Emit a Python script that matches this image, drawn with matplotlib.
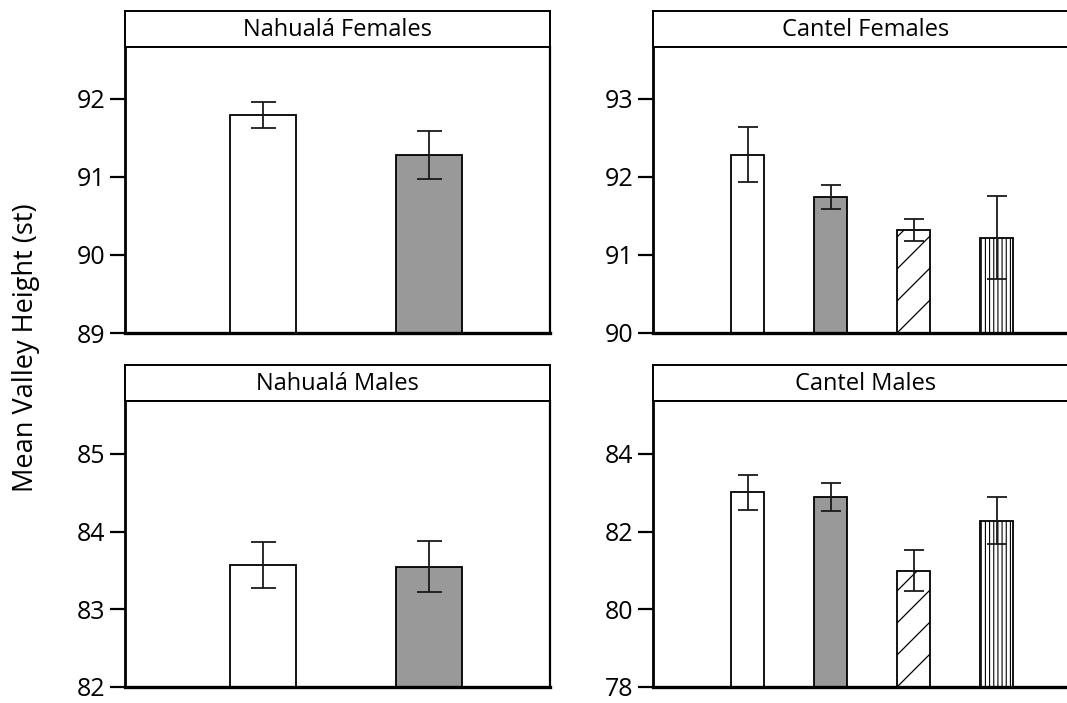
import matplotlib
matplotlib.use("Agg")
import matplotlib.pyplot as plt
import numpy as np

plt.rcParams["font.family"] = ["Open Sans", "DejaVu Sans"]
plt.rcParams["hatch.linewidth"] = 0.8

# Mean valley height (semitones) with error bar half-widths
nahuala_f_means = [91.79, 91.28]
nahuala_f_err = [0.17, 0.31]
cantel_f_means = [92.28, 91.74, 91.32, 91.22]
cantel_f_err = [0.35, 0.15, 0.14, 0.53]
nahuala_m_means = [83.57, 83.55]
nahuala_m_err = [0.30, 0.33]
cantel_m_means = [83.01, 82.89, 80.99, 82.28]
cantel_m_err = [0.45, 0.37, 0.53, 0.61]

nahuala_f_ticks = [89, 90, 91, 92]
cantel_f_ticks = [90, 91, 92, 93]
nahuala_m_ticks = [82, 83, 84, 85]
cantel_m_ticks = [78, 80, 82, 84]

GRAY = "#999999"
# fill / hatch style per group: plain, gray, diagonal, vertical
styles = [
    dict(color="white", hatch=None),
    dict(color=GRAY, hatch=None),
    dict(color="white", hatch="diag"),
    dict(color="white", hatch="||||"),
]

W, H = 1067, 703
fig = plt.figure(figsize=(W / 100, H / 100), dpi=100)


def px_box(x0, y0, x1, y1):
    return [x0 / W, 1 - y1 / H, (x1 - x0) / W, (y1 - y0) / H]


def draw_diagonals(ax, bar, spacing_px=32):
    """Sparse 45-degree lines clipped to a bar."""
    x0, y0 = bar.get_x(), bar.get_y()
    bw, bh = bar.get_width(), bar.get_height()
    p0 = ax.transData.transform((x0, y0))
    p1 = ax.transData.transform((x0 + bw, y0 + bh))
    wpx = p1[0] - p0[0]
    inv = ax.transData.inverted()
    start = p0[1]
    while start < p1[1]:
        a = inv.transform((p0[0], start))
        b = inv.transform((p0[0] + wpx, start + wpx))
        ln, = ax.plot([a[0], b[0]], [a[1], b[1]], color="black", lw=0.9,
                      solid_capstyle="butt", zorder=2.5)
        ln.set_clip_path(bar)
        start += spacing_px


def draw_panel(box, title, means, errs, ticks, ylim, positions, xlim, capsize):
    x0, y0, x1, y1 = box
    head_h = 36
    hax = fig.add_axes(px_box(x0, y0, x1, y0 + head_h))
    hax.set_xticks([])
    hax.set_yticks([])
    for s in hax.spines.values():
        s.set_linewidth(1.4)
    hax.text(0.5, 0.48, title, ha="center", va="center", fontsize=17,
             transform=hax.transAxes)

    ax = fig.add_axes(px_box(x0, y0 + head_h, x1, y1))
    ax.set_xlim(*xlim)
    ax.set_ylim(*ylim)
    ax.set_yticks(ticks)
    ax.set_xticks([])
    ax.tick_params(axis="y", length=11, width=1.6, labelsize=18, pad=3,
                   direction="out")
    ax.spines["left"].set_linewidth(2.0)
    ax.spines["bottom"].set_linewidth(2.4)
    ax.spines["right"].set_linewidth(1.6)
    ax.spines["top"].set_linewidth(1.4)

    base = ylim[0]
    for i, (pos, m, e) in enumerate(zip(positions, means, errs)):
        st = styles[i]
        hatch = st["hatch"] if st["hatch"] not in (None, "diag") else None
        bar = ax.bar(pos, m - base, width=0.4, bottom=base, color=st["color"],
                     edgecolor="black", linewidth=1.3, hatch=hatch, zorder=2)[0]
        if st["hatch"] == "diag":
            draw_diagonals(ax, bar)
        ax.errorbar(pos, m, yerr=e, fmt="none", ecolor="#1a1a1a",
                    elinewidth=1.3, capsize=capsize, capthick=1.3, zorder=3)
    return ax


# left column: two groups, right column: four groups
left_pos = [1, 2]
left_xlim = (0.168, 2.73)
right_pos = [1, 2, 3, 4]
right_xlim = (-0.14, 4.98)

draw_panel((125, 11, 550, 333), "Nahualá Females", nahuala_f_means,
           nahuala_f_err, nahuala_f_ticks, (89, 92.66), left_pos, left_xlim, 9)
draw_panel((653, 11, 1078, 333), "Cantel Females", cantel_f_means,
           cantel_f_err, cantel_f_ticks, (90, 93.66), right_pos, right_xlim, 7)
draw_panel((125, 365, 550, 687), "Nahualá Males", nahuala_m_means,
           nahuala_m_err, nahuala_m_ticks, (82, 85.68), left_pos, left_xlim, 9)
draw_panel((653, 365, 1078, 687), "Cantel Males", cantel_m_means,
           cantel_m_err, cantel_m_ticks, (78, 85.36), right_pos, right_xlim, 7)

fig.text(26 / W, 1 - 348 / H, "Mean Valley Height (st)", rotation=90,
         ha="center", va="center", fontsize=19.5)

fig.savefig("out.png", dpi=100)
